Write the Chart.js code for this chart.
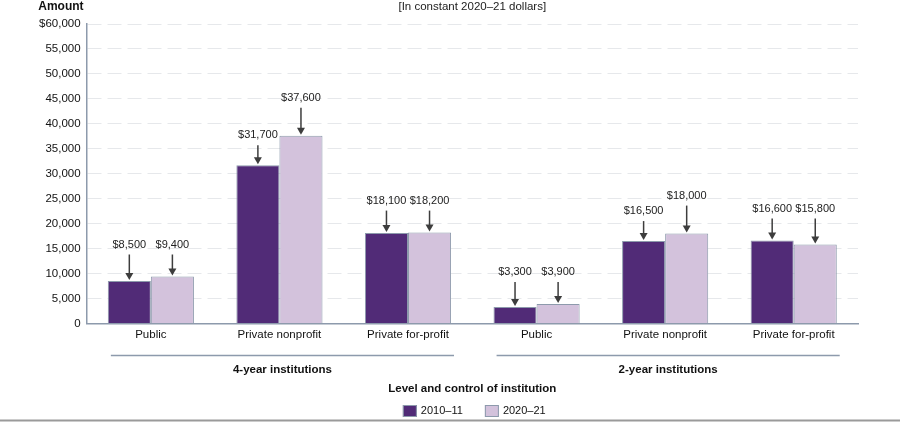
<!DOCTYPE html>
<html>
<head>
<meta charset="utf-8">
<script src="https://cdn.jsdelivr.net/npm/chart.js@4"></script>
<style>
  html, body { margin: 0; padding: 0; background: #fff; }
  #wrap { position: relative; width: 900px; height: 422px; }
</style>
</head>
<body>
<div id="wrap"><canvas id="chart"></canvas></div>
<script>
const categories = ['Public', 'Private nonprofit', 'Private for-profit', 'Public', 'Private nonprofit', 'Private for-profit'];
const groupNames = ['4-year institutions', '2-year institutions'];
const groupSize = 3;
const seriesNames = ['2010\u201311', '2020\u201321'];
const values2011 = [8500, 31700, 18100, 3300, 16500, 16600];
const values2021 = [9400, 37600, 18200, 3900, 18000, 15800];
const yMax = 60000;
const yStep = 5000;

const FONT = '"Liberation Sans", Arial, Helvetica, sans-serif';
const DARK = '#512b77';
const LIGHT = '#d3c2dc';
const EDGE = '#8d9aac';
const COLORS = [DARK, LIGHT];

function money(v) {
    return '$' + Number(v).toLocaleString('en-US');
}

// arrows + value labels, group brackets, header texts, legend
const extras = {
    id: 'extras',
    afterDatasetsDraw(chart) {
        const ctx = chart.ctx;
        const m0 = chart.getDatasetMeta(0).data;
        const m1 = chart.getDatasetMeta(1).data;
        ctx.save();
        ctx.font = '11px ' + FONT;
        ctx.textAlign = 'center';
        ctx.textBaseline = 'middle';
        for (let i = 0; i < m0.length; i++) {
            const a = m0[i], b = m1[i];
            let ya, yb;
            if (Math.abs(a.y - b.y) < 6) {
                ya = yb = Math.min(a.y, b.y) - 32;
            } else if (a.y < b.y) {
                ya = a.y - 38; yb = b.y - 30;
            } else {
                ya = a.y - 30; yb = b.y - 38;
            }
            [[a, ya, values2011[i]], [b, yb, values2021[i]]].forEach(([bar, ly, v]) => {
                ctx.fillStyle = '#222';
                ctx.fillText(money(v), bar.x, ly);
                ctx.strokeStyle = '#3d3d3d';
                ctx.fillStyle = '#3d3d3d';
                ctx.lineWidth = 1.5;
                ctx.beginPath();
                ctx.moveTo(bar.x, ly + 10);
                ctx.lineTo(bar.x, bar.y - 6);
                ctx.stroke();
                ctx.beginPath();
                ctx.moveTo(bar.x - 4, bar.y - 8);
                ctx.lineTo(bar.x + 4, bar.y - 8);
                ctx.lineTo(bar.x, bar.y - 1);
                ctx.closePath();
                ctx.fill();
            });
        }
        ctx.restore();
    },
    afterDraw(chart) {
        const ctx = chart.ctx;
        const area = chart.chartArea;
        const x = chart.scales.x;
        const mid = (area.left + area.right) / 2;
        ctx.save();
        // group brackets
        for (let g = 0; g < groupNames.length; g++) {
            const x0 = x.getPixelForValue(g * groupSize) - 40;
            const x1 = x.getPixelForValue(g * groupSize + groupSize - 1) + 46;
            ctx.strokeStyle = EDGE;
            ctx.lineWidth = 1.5;
            ctx.beginPath();
            ctx.moveTo(x0, area.bottom + 32);
            ctx.lineTo(x1, area.bottom + 32);
            ctx.stroke();
            ctx.fillStyle = '#111';
            ctx.font = 'bold 11.5px ' + FONT;
            ctx.textAlign = 'center';
            ctx.textBaseline = 'middle';
            ctx.fillText(groupNames[g], (x0 + x1) / 2, area.bottom + 46);
        }
        // header texts
        ctx.fillStyle = '#111';
        ctx.font = 'bold 12px ' + FONT;
        ctx.textAlign = 'right';
        ctx.textBaseline = 'middle';
        ctx.fillText('Amount', area.left - 3, 7);
        ctx.font = '11.5px ' + FONT;
        ctx.textAlign = 'center';
        ctx.fillStyle = '#222';
        ctx.fillText('[In constant 2020\u201321 dollars]', mid, 7);
        // legend
        ctx.font = '11px ' + FONT;
        const box = 14, gapText = 4, gapItem = 22;
        const widths = seriesNames.map(s => box + gapText + ctx.measureText(s).width);
        let lx = mid + 2 - (widths[0] + widths[1] + gapItem) / 2;
        const ly = 411;
        ctx.textAlign = 'left';
        seriesNames.forEach((s, i) => {
            ctx.fillStyle = COLORS[i];
            ctx.fillRect(lx, ly - 6, box, 12);
            ctx.strokeStyle = EDGE;
            ctx.lineWidth = 1;
            ctx.strokeRect(lx + 0.5, ly - 5.5, box - 1, 11);
            ctx.fillStyle = '#111';
            ctx.fillText(s, lx + box + gapText, ly);
            lx += widths[i] + gapItem;
        });
        // bottom rule
        ctx.strokeStyle = '#9a9a9a';
        ctx.lineWidth = 2;
        ctx.beginPath();
        ctx.moveTo(0, 420.5);
        ctx.lineTo(chart.width, 420.5);
        ctx.stroke();
        ctx.restore();
    }
};

new Chart(document.getElementById('chart'), {
    type: 'bar',
    data: {
        labels: categories,
        datasets: [
            { label: seriesNames[0], data: values2011, backgroundColor: DARK, borderColor: EDGE, borderWidth: 1 },
            { label: seriesNames[1], data: values2021, backgroundColor: LIGHT, borderColor: EDGE, borderWidth: 1 }
        ]
    },
    options: {
        responsive: true,
        maintainAspectRatio: false,
        animation: false,
        categoryPercentage: 0.67,
        barPercentage: 1,
        layout: { padding: { top: 24, left: 33, right: 42, bottom: 26 } },
        plugins: {
            legend: { display: false },
            tooltip: { enabled: false }
        },
        scales: {
            x: {
                grid: { display: false, drawTicks: false },
                border: { display: true, color: EDGE, width: 1.5 },
                ticks: { color: '#111', padding: 5, font: { family: FONT, size: 11.5 }, maxRotation: 0, autoSkip: false },
                title: {
                    display: true,
                    text: 'Level and control of institution',
                    color: '#111',
                    font: { family: FONT, size: 11.5, weight: 'bold' },
                    padding: { top: 35, bottom: 0 }
                }
            },
            y: {
                min: 0,
                max: yMax,
                grid: {
                    drawTicks: false,
                    color: ctx => ctx.tick && ctx.tick.value === 0 ? 'rgba(0,0,0,0)' : '#e6e8eb'
                },
                border: { display: true, color: EDGE, width: 1.5, dash: [14, 6] },
                ticks: {
                    stepSize: yStep,
                    padding: 6,
                    color: '#111',
                    font: { family: FONT, size: 11.5 },
                    callback: v => v === yMax ? money(v) : Number(v).toLocaleString('en-US')
                }
            }
        }
    },
    plugins: [extras]
});
</script>
</body>
</html>
